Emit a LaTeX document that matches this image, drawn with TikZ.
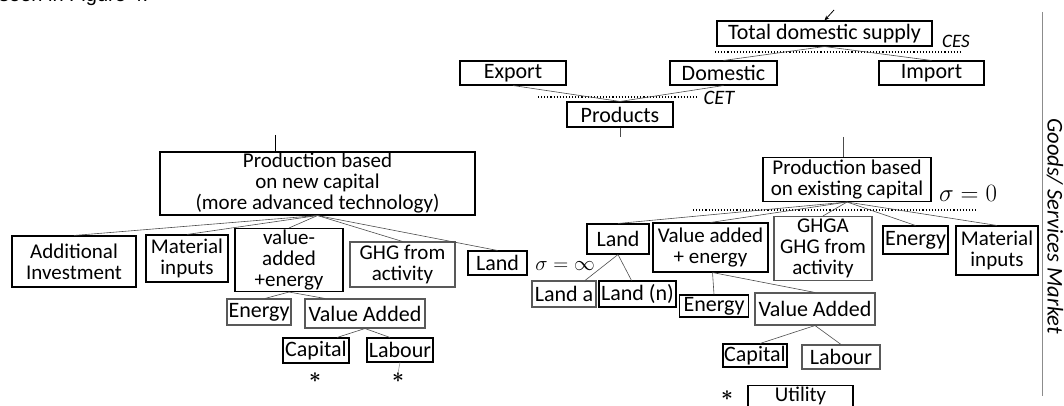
\documentclass[tikz,border=0pt]{standalone}
\usepackage{fontspec}
\setmainfont{Carlito}
\newfontfamily\arialf{Liberation Sans}
\usetikzlibrary{calc,arrows.meta}
\begin{document}
\begin{tikzpicture}[x=1pt,y=-1pt,
  bx/.style={draw=black, line width=1.05pt, inner sep=0pt, align=center, font=\fontsize{22}{21}\selectfont},
  ml/.style={font=\fontsize{21}{21}\selectfont},
  gbx/.style={bx, draw=black!65},
  ln/.style={draw=black!70, line width=0.6pt},
  dl/.style={draw=black, dotted, line width=1.1pt},
  lbl/.style={inner sep=0pt, font=\fontsize{22}{21}\selectfont},
  mlbl/.style={inner sep=0pt, font=\fontsize{22.5}{21}\selectfont},
  ast/.style={inner sep=0pt, font=\fontsize{21}{21}\selectfont\boldmath}]
\useasboundingbox (0,0) rectangle (1064,406);
% clipped text at the top
\node[anchor=base west, inner sep=0pt, font=\arialf\fontsize{20}{20}\selectfont] (seen) at (-1,2) {seen in Figure 4.};
% market side
\node[lbl, font=\itshape\fontsize{22.5}{20}\selectfont, rotate=-90] (mkt) at (1055,226) {Goods/ Services Market};
\draw[draw=black!45, line width=0.8pt] (1042,12) -- (1042,396);
% top part
\node[bx, minimum width=215, minimum height=25] (tds) at (824.5,33.5) {Total domestic supply};
\coordinate (arr) at (834,10);
\draw[line width=0.8pt, -{Stealth[length=5pt,width=4pt]}] (arr) -- (tds.north);
\node[lbl, font=\itshape\fontsize{19}{19}\selectfont] (ces) at (956,41) {CES};
\node[bx, minimum width=106, minimum height=24] (export) at (513,73) {Export};
\node[bx, minimum width=107, minimum height=24] (domestic) at (723.5,73) {Domestic};
\node[bx, minimum width=105, minimum height=24] (import) at (931.5,73) {Import};
\node[bx, minimum width=106, minimum height=25] (products) at (620,114.5) {Products};
\node[lbl, font=\itshape\fontsize{20.5}{20}\selectfont] (cet) at (719,98) {CET};
\draw[dl] (715,52) -- (960,52);
\draw[dl] (538,97) -- (697,97);
\draw[ln] (tds.south) -- (domestic.north);
\draw[ln] (tds.south) -- (import.north);
\draw[ln] (export.south) -- (products.north);
\draw[ln] (domestic.south) -- (products.north);
\coordinate (pstub) at (620,137);
\draw[ln] (products.south) -- (pstub);
% production boxes
\node[bx, ml, minimum width=315, minimum height=63] (lprod) at (317.5,183.5) {Production based\\on new capital\\(more advanced technology)};
\node[bx, ml, minimum width=168, minimum height=44] (rprod) at (847,179.5) {Production based\\on existing capital};
\coordinate (lstub) at (275,135);
\coordinate (rstub) at (843,137);
\draw[line width=0.7pt] (lstub) -- (lstub |- lprod.north);
\draw[ln] (rstub) -- (rstub |- rprod.north);
\node[mlbl, font=\fontsize{24.5}{21}\selectfont] (s0) at (968,193) {$\sigma = 0$};
\draw[dl] (693,210) -- (977,210);
% left children
\node[bx, ml, minimum width=124, minimum height=51] (addinv) at (74,261.5) {Additional\\Investment};
\node[bx, ml, minimum width=82, minimum height=47] (lmat) at (187,258.5) {Material\\inputs};
\node[bx, ml, minimum width=108, minimum height=63] (lvae) at (289,260) {value-\\added\\+energy};
\node[gbx, ml, minimum width=105, minimum height=45] (lghg) at (402.5,264.5) {GHG from\\activity};
\node[bx, minimum width=59, minimum height=24] (lland) at (497.5,263) {Land};
\node[mlbl] (sinf) at (565,266) {$\sigma = \infty$};
\foreach \n in {addinv,lmat,lvae,lghg,lland} \draw[ln] (lprod.south) -- (\n.north);
\node[gbx, minimum width=64, minimum height=26] (lenergy) at (259,312) {Energy};
\node[gbx, minimum width=120, minimum height=29] (lva) at (365,313.5) {Value Added};
\draw[ln] (lvae.south) -- ($(lenergy.north)+(6,0)$);
\draw[ln] (lvae.south) -- ($(lva.north)+(-40,0)$);
\node[bx, minimum width=66, minimum height=25] (lcap) at (316,350.5) {Capital};
\node[bx, minimum width=66, minimum height=24] (llab) at (400,350) {Labour};
\draw[ln] (lva.south) -- ($(lcap.north)+(21,0)$);
\draw[ln] (lva.south) -- ($(llab.north)+(-10,0)$);
\node[ast] (ast1) at (315,378) {$\ast$};
\node[ast] (ast2) at (398,378) {$\ast$};
\draw[draw=black!40, line width=0.6pt] (llab.south) -- (ast2.north);
% right children
\node[bx, minimum width=62, minimum height=30] (rland) at (618,239) {Land};
\node[bx, ml, minimum width=115, minimum height=49] (rvae) at (710.5,247.5) {Value added\\+ energy};
\node[gbx, ml, minimum width=98, minimum height=64] (rghg) at (823,248.5) {GHGA\\GHG from\\activity};
\node[bx, minimum width=65, minimum height=28] (ren1) at (915.5,240) {Energy};
\node[bx, ml, minimum width=82, minimum height=49] (rmat) at (997,250.5) {Material\\inputs};
\foreach \n in {rland,rvae,rghg,ren1,rmat} \draw[ln] (rprod.south) -- (\n.north);
\node[gbx, minimum width=64, minimum height=26] (landa) at (564,294) {Land a};
\node[bx, minimum width=77, minimum height=26] (landn) at (637.5,294) {Land (n)};
\draw[ln] (rland.south) -- ($(landa.north)+(21,0)$);
\draw[ln] (rland.south) -- ($(landn.north)+(-6,0)$);
\node[bx, minimum width=69, minimum height=22] (ren2) at (714,306) {Energy};
\node[gbx, minimum width=120, minimum height=32] (rva) at (815,309) {Value Added};
\draw[ln] ($(rvae.south)+(2,0)$) -- (ren2.north);
\draw[ln] ($(rvae.south)+(2,0)$) -- (rva.north);
\node[bx, minimum width=64, minimum height=23] (rcap) at (755,355.5) {Capital};
\node[gbx, minimum width=78, minimum height=24] (rlab) at (841,357) {Labour};
\draw[ln] (rva.south) -- ($(rcap.north)+(5,0)$);
\draw[ln] (rva.south) -- (rlab.north);
\node[bx, font=\fontsize{21}{21}\selectfont, minimum width=105, minimum height=22, anchor=north] (util) at (800.5,384.5) {Utility};
\draw[ln] ($(rcap.south)+(6,0)$) -- ($(rcap.south)+(6,0)$ |- util.north);
\node[ast] (ast3) at (727,396) {$\ast$};
\end{tikzpicture}
\end{document}
